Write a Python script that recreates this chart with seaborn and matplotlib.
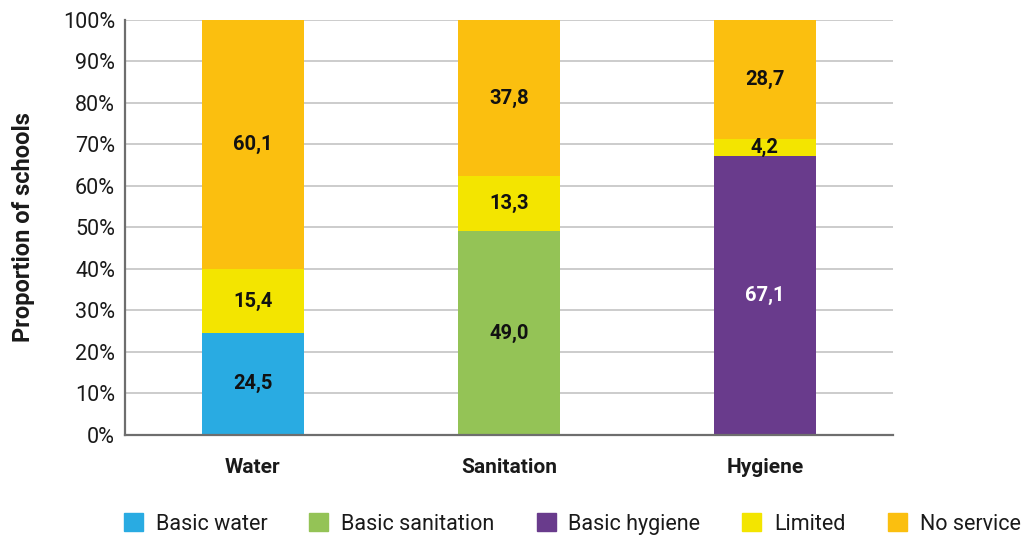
import matplotlib
matplotlib.use("Agg")
import matplotlib.pyplot as plt
from matplotlib.patches import Patch
import seaborn as sns
import pandas as pd

categories = ["Water", "Sanitation", "Hygiene"]
basic = [24.5, 49.0, 67.1]
limited = [15.4, 13.3, 4.2]
no_service = [60.1, 37.8, 28.7]
basic_names = ["Basic water", "Basic sanitation", "Basic hygiene"]
y_ticks = [0, 10, 20, 30, 40, 50, 60, 70, 80, 90, 100]

basic_colors = ["#29ABE2", "#94C356", "#693B8C"]
limited_color = "#F3E500"
none_color = "#FBBF0F"

sns.set_theme(style="white")
plt.rcParams["font.family"] = ["Roboto", "DejaVu Sans"]

df = pd.DataFrame({
    "category": categories,
    "basic": basic,
    "limited": limited,
    "none": no_service,
})
df["top_limited"] = df["basic"] + df["limited"]
df["top_none"] = df["top_limited"] + df["none"]

fig, ax = plt.subplots(figsize=(10.31, 5.40), dpi=100)
fig.subplots_adjust(left=0.121, right=0.866, top=0.963, bottom=0.195)

bw = 0.4
common = dict(width=bw, saturation=1, ax=ax, zorder=2, linewidth=0, edgecolor="none")
sns.barplot(data=df, x="category", y="top_none", color=none_color, **common)
sns.barplot(data=df, x="category", y="top_limited", color=limited_color, **common)
sns.barplot(data=df, x="category", y="basic", hue="category",
            palette=basic_colors, dodge=False, legend=False, **common)

# segment value labels
def fmt(v):
    return f"{v:.1f}".replace(".", ",")

lab = dict(ha="center", va="center", fontsize=14.5, fontweight="bold", zorder=3)
for i in range(len(categories)):
    b, l, n = basic[i], limited[i], no_service[i]
    ax.text(i, b / 2, fmt(b), color="white" if i == 2 else "#111111", **lab)
    ax.text(i, b + l / 2, fmt(l), color="#111111", **lab)
    ax.text(i, b + l + n / 2, fmt(n), color="#111111", **lab)

ax.set_xlim(-0.5, 2.5)
ax.set_ylim(0, 100)
ax.set_yticks(y_ticks)
ax.set_yticklabels([f"{t}%" for t in y_ticks], fontsize=15.5, color="#1a1a1a")
ax.set_xticks(range(len(categories)))
ax.set_xticklabels(categories, fontsize=15, fontweight="bold", color="#1a1a1a")
ax.tick_params(axis="x", length=0, pad=17)
ax.tick_params(axis="y", length=0, pad=7)
ax.set_xlabel("")
ax.set_ylabel("Proportion of schools", fontsize=17, fontweight="bold",
              color="#1a1a1a", labelpad=20)

ax.yaxis.grid(True, color="#c8c8c8", linewidth=1.3, zorder=0)
ax.set_axisbelow(True)
for side in ["top", "right"]:
    ax.spines[side].set_visible(False)
for side in ["left", "bottom"]:
    ax.spines[side].set_color("#6e6e6e")
    ax.spines[side].set_linewidth(1.6)

handles = [Patch(color=c, label=n) for c, n in zip(basic_colors, basic_names)]
handles += [Patch(color=limited_color, label="Limited"),
            Patch(color=none_color, label="No service")]
fig.legend(handles=handles, loc="center left", bbox_to_anchor=(0.1203, 0.0296),
           ncol=5, frameon=False, fontsize=15.5, handlelength=0.88,
           handleheight=0.88, handletextpad=0.6, columnspacing=1.95,
           borderpad=0, borderaxespad=0, labelcolor="#1a1a1a")

fig.savefig("out.png", dpi=100)
